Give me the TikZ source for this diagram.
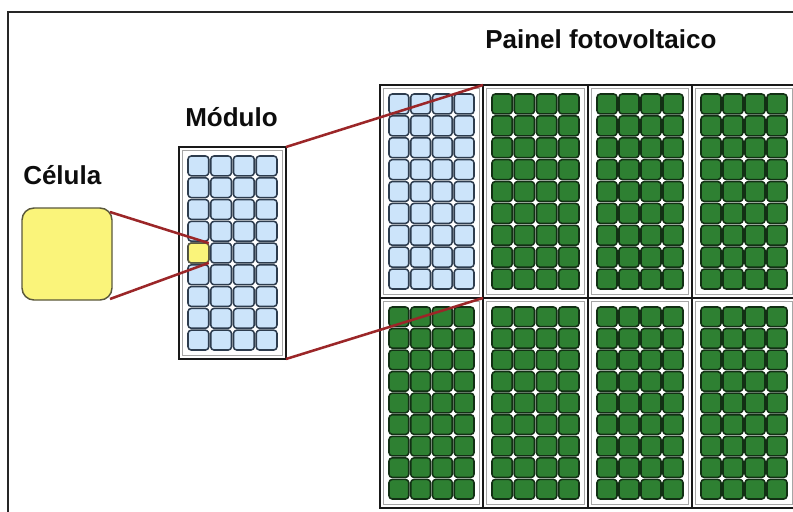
\documentclass[tikz,border=0pt]{standalone}
\usepackage{fontspec}
\setmainfont{Liberation Sans}
\definecolor{cellblueF}{RGB}{204,228,250}
\definecolor{cellblueD}{RGB}{45,60,78}
\definecolor{cellgreenF}{RGB}{46,128,50}
\definecolor{cellgreenD}{RGB}{18,48,20}
\definecolor{yelF}{RGB}{250,244,122}
\definecolor{yelD}{RGB}{90,88,60}
\definecolor{linkred}{RGB}{155,38,40}
\tikzset{
  modframe/.style={draw=black!90, line width=1.5pt},
  modinner/.style={draw=black!35, line width=0.6pt},
  bluecell/.style={draw=cellblueD, fill=cellblueF, line width=1.15pt, rounded corners=2.4pt},
  greencell/.style={draw=cellgreenD, fill=cellgreenF, line width=1.15pt, rounded corners=2.4pt},
  yellowcell/.style={draw=yelD, fill=yelF, line width=1.1pt, rounded corners=2.4pt, inner sep=0pt, outer sep=0pt},
  bigcell/.style={draw=yelD, fill=yelF, line width=1.1pt, rounded corners=9pt, inner sep=0pt, outer sep=0pt},
  anchorbox/.style={inner sep=0pt, outer sep=0pt},
  link/.style={draw=linkred, line width=1.9pt},
  lbl/.style={font=\bfseries\fontsize{19.5pt}{22pt}\selectfont, text=black!95, inner sep=0pt},
}
\newcommand{\drawmodule}[5]{%
  \draw[modframe] (#1,#2) rectangle (#3,#4);
  \draw[modinner] (#1+3.5,#2+3.5) rectangle (#3-3.5,#4-3.5);
  \pgfmathsetmacro\cxa{#1+8}%
  \pgfmathsetmacro\cya{#2+8}%
  \pgfmathsetmacro\cpx{(#3-#1-16)/4}%
  \pgfmathsetmacro\cpy{(#4-#2-16)/9}%
  \foreach \i in {0,...,3}{\foreach \j in {0,...,8}{
    \draw[#5] ({\cxa+\i*\cpx+1},{\cya+\j*\cpy+1}) rectangle ({\cxa+(\i+1)*\cpx-1},{\cya+(\j+1)*\cpy-1});
  }}
  \foreach \i in {1,2,3}{\foreach \j in {1,...,8}{
    \fill[white] ({\cxa+\i*\cpx},{\cya+\j*\cpy}) circle[radius=1.5pt];
  }}
}
\begin{document}
\begin{tikzpicture}[x=0.75pt,y=-0.75pt]
\useasboundingbox (0,0) rectangle (793,511);
\clip (0,0) rectangle (793,511);
\fill[white] (0,0) rectangle (793,511);
% outer frame
\draw[line width=1.5pt, draw=black!85] (8,11.5) rectangle (900,600);

% labels
\node[lbl, anchor=base west] (tcel) at (23,184) {Célula};
\node[lbl, anchor=base west] (tmod) at (185,126) {Módulo};
\node[lbl, anchor=base west] (tpan) at (485,48) {Painel fotovoltaico};

% big cell
\node[bigcell, minimum width=90*0.75pt, minimum height=92*0.75pt] (cel) at (67,254) {};

% module
\drawmodule{179}{147}{286}{359}{bluecell}
\node[anchorbox, minimum width=107*0.75pt, minimum height=212*0.75pt] (mod) at (232.5,253) {};
\node[yellowcell, minimum width=20.75*0.75pt, minimum height=19.8*0.75pt] (ycell) at (198.4,253) {};

% panel
\drawmodule{380}{85}{483}{298}{bluecell}
\drawmodule{483}{85}{588}{298}{greencell}
\drawmodule{588}{85}{692}{298}{greencell}
\drawmodule{692}{85}{796}{298}{greencell}
\drawmodule{380}{298}{483}{508}{greencell}
\drawmodule{483}{298}{588}{508}{greencell}
\drawmodule{588}{298}{692}{508}{greencell}
\drawmodule{692}{298}{796}{508}{greencell}
\node[anchorbox, minimum width=103*0.75pt, minimum height=213*0.75pt] (pm) at (431.5,191.5) {};

% connectors
\draw[link] ([shift={(-2,4)}]cel.north east) -- (ycell.north east);
\draw[link] ([shift={(-2,-1)}]cel.south east) -- (ycell.south east);
\draw[link] (mod.north east) -- (pm.north east);
\draw[link] (mod.south east) -- (pm.south east);
\end{tikzpicture}
\end{document}
